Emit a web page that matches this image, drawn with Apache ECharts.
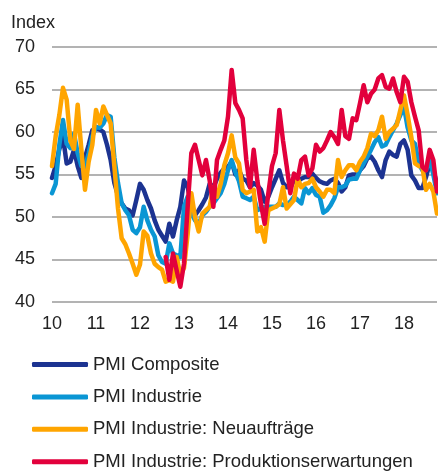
<!DOCTYPE html>
<html>
<head>
<meta charset="utf-8">
<script src="https://cdn.jsdelivr.net/npm/echarts@6/dist/echarts.min.js"></script>
<style>
  html, body { margin: 0; padding: 0; background: #fff; }
  #chart { width: 438px; height: 471px; }
</style>
</head>
<body>
<div id="chart"></div>
<script>
// months Jan 2010 .. Oct 2018
const months = [];
for (let y = 2010; y <= 2018; y++) {
    for (let m = 1; m <= 12; m++) {
        if (y === 2018 && m > 10) break;
        months.push(y + '-' + (m < 10 ? '0' + m : m));
    }
}
const yearLabels = ['10', '11', '12', '13', '14', '15', '16', '17', '18'];

const composite = [
    54.6, 56, 58, 59.4, 56.3, 56.5, 57.9, 56, 54.6, 57, 58.5, 60.2,
    60.4, 60.3, 60, 58.5, 56.7, 54, 52.5, 51.6, 51, 50.8, 50.2, 52,
    53.9, 53.2, 52, 51, 49.6, 48.5, 47.8, 47.1, 49.2, 47.7, 49.6, 51.2,
    54.3, 53.5, 51.5, 50.2, 50.8, 51.5, 52.3, 53.9, 53.5, 54.5, 55.2, 55.7,
    55.9, 56.5, 55, 55.5, 54.5, 54.3, 53.5, 54, 53.7, 53.2, 51.8, 52.4,
    53.5, 54.5, 55.5, 54, 53.5, 53.5, 54.3, 54.2, 54.5, 54.7, 54.7, 55.1,
    54.6, 54.2, 54, 53.9, 54.3, 54.5, 54, 53, 53.5, 54.9, 55, 55,
    55.5, 56, 56.9, 57.1, 56.5, 55.5, 54.7, 56.7, 57.7, 57.3, 57.1, 58.6,
    59, 57.9, 54.9, 54.3, 53.4, 53.4, 54.7, 56.3, 55.5, 53.9
];

const industrie = [
    52.8, 53.9, 58.5, 61.4, 58.6, 58.1, 59.8, 57.5, 56, 55.9, 57.5, 59.5,
    60.6, 60.5, 61, 62, 61.8, 57, 54, 51.6, 50.8, 50.2, 48.5, 48.1,
    48.8, 51.2, 49.6, 48.5, 47.7, 45.5, 44.7, 44.5, 46.9, 45.7, 45.5, 45.3,
    51.2, 52.4, 50.5, 49.6, 49.2, 50.2, 50.6, 51.2, 51.6, 52.2, 52.8, 53.9,
    55.5, 56.7, 55.3, 54.2, 52.4, 52.2, 52, 52.4, 50.8, 51, 51.2, 51.2,
    51.2, 51.2, 51.6, 51.4, 51.4, 51.8, 52.4, 52, 51.6, 53.4, 52.8, 53.4,
    52.6, 52.4, 50.5, 50.8, 51.4, 52.2, 53.5, 53.5, 53.7, 54.4, 54.5, 54.5,
    55.5, 56.3, 57.1, 57.9, 58.8, 59.4, 58.3, 58.5, 59.4, 60.2, 61, 62,
    63, 60.5, 59, 58.6, 56.3, 55.5, 55.5, 56.7, 55, 52.8
];

const neuauftraege = [
    56, 59.5, 62, 65.2, 63.8, 59, 58, 63.2, 58, 53.2, 56.5, 58.5,
    62.6, 61, 63, 62, 61, 56, 51, 47.5, 46.8, 45.7, 44.5, 43.2,
    44.4, 48.3, 47.8, 45.7, 44.5, 44.1, 43.8, 42.4, 42.6, 42.4, 45.3, 43.2,
    44, 48, 52.8, 50, 48.3, 50.4, 50.8, 51.2, 53.5, 52.4, 53.9, 56.1,
    57.5, 59.6, 57, 56.3, 53.2, 52.8, 53, 53.2, 48.3, 48.8, 47.1, 50.8,
    51, 51.2, 51.5, 53.5, 51, 51.5, 52, 54.5, 53.5, 53.9, 54, 54.5,
    53.5, 53, 52.4, 53.2, 53.2, 52.8, 56.7, 54.7, 55.5, 56.1, 56.1, 55.5,
    56.5, 57.1, 58.1, 59.8, 59.5, 60.2, 61.8, 59.2, 60, 60.4, 60.8, 62.6,
    64.3, 62, 59.4, 56.3, 56, 55.9, 53.2, 53.9, 53, 50.4
];

const produktion = [
    null, null, null, null, null, null, null, null, null, null, null, null,
    null, null, null, null, null, null, null, null, null, null, null, null,
    null, null, null, null, null, null, null, 45.3, 42.6, 45.7, 43.7, 41.8,
    44.5, 51.2, 57.5, 58.5, 56.7, 54.9, 56.7, 54.3, 51.2, 56.7, 57.9, 59,
    61.8, 67.3, 63.4, 62.6, 61.6, 56.7, 53.5, 57.9, 54.3, 51.5, 49.2, 52.8,
    56, 57.5, 62.6, 59, 56, 52.8, 55.1, 54.5, 56.7, 57.1, 54.9, 55.7,
    58.5, 57.7, 58.1, 59, 60, 59.4, 58.6, 62.6, 59.5, 59.2, 61.6, 61.4,
    63.4, 65.5, 63.5, 64.5, 65, 66.3, 66.7, 65.3, 65.1, 66.3, 64.7, 63.5,
    66.5, 65.9, 63.5, 61.8, 60.2, 55.9, 55.5, 57.9, 56.7, 53
];

const chart = echarts.init(document.getElementById('chart'));

function makeLine(name, data, color) {
    return {
        name: name,
        type: 'line',
        data: data,
        showSymbol: false,
        symbol: 'none',
        connectNulls: false,
        lineStyle: { color: color, width: 4.5, cap: 'round', join: 'round' },
        itemStyle: { color: color }
    };
}

chart.setOption({
    animation: false,
    textStyle: { fontFamily: 'Liberation Sans, Arial, sans-serif' },
    title: {
        text: 'Index',
        left: 6,
        top: 9,
        textStyle: { fontSize: 18, fontWeight: 'normal', color: '#222' }
    },
    grid: { left: 52, right: 1, top: 47, bottom: 169, containLabel: false },
    legend: {
        orient: 'vertical',
        left: 32,
        top: 355,
        height: 160,
        padding: 0,
        itemWidth: 56,
        itemHeight: 5,
        itemGap: 13.4,
        icon: 'roundRect',
        textStyle: { fontSize: 18.5, color: '#222', lineHeight: 18 },
        data: ['PMI Composite', 'PMI Industrie', 'PMI Industrie: Neuaufträge', 'PMI Industrie: Produktionserwartungen']
    },
    xAxis: {
        type: 'category',
        data: months,
        boundaryGap: false,
        axisLine: { show: false },
        axisTick: { show: false },
        axisLabel: {
            interval: function (i) { return i % 12 === 0; },
            formatter: function (v, i) { return yearLabels[Math.floor(i / 12)]; },
            fontSize: 18,
            color: '#222',
            margin: 13
        }
    },
    yAxis: {
        type: 'value',
        min: 40,
        max: 70,
        interval: 5,
        axisLine: { show: false },
        axisTick: { show: false },
        axisLabel: { fontSize: 18, color: '#222', margin: 17 },
        splitLine: { lineStyle: { color: '#9a9a9a', width: 1.5 } }
    },
    series: [
        makeLine('PMI Composite', composite, '#1c3391'),
        makeLine('PMI Industrie', industrie, '#0a96d4'),
        makeLine('PMI Industrie: Neuaufträge', neuauftraege, '#ffa500'),
        makeLine('PMI Industrie: Produktionserwartungen', produktion, '#e2003c')
    ]
});
</script>
</body>
</html>
